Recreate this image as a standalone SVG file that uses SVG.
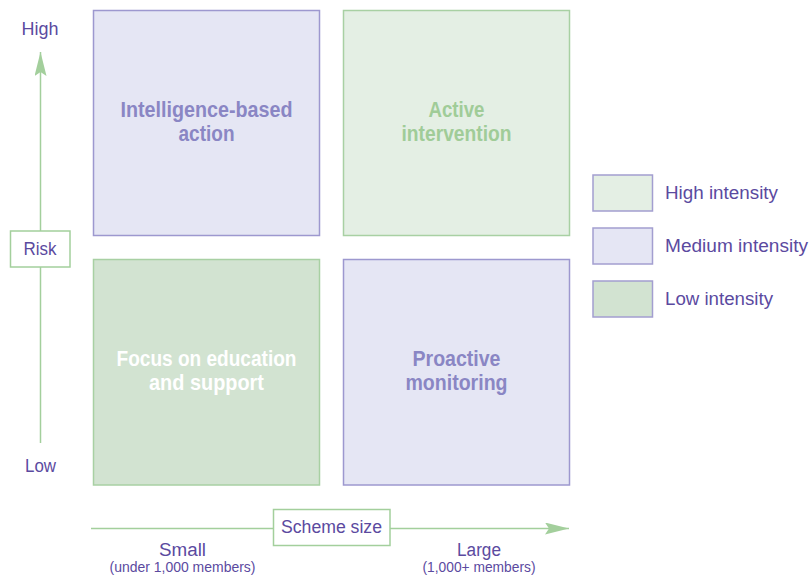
<svg xmlns="http://www.w3.org/2000/svg" width="809" height="575" viewBox="0 0 809 575">
<style>
.t{font-family:"Liberation Sans",Arial,sans-serif;fill:#5b4a9f;font-size:18px}
.s{font-size:14px}
.b{font-family:"Liberation Sans",Arial,sans-serif;font-weight:bold;font-size:22px;text-anchor:middle}
.med{fill:#e5e6f4;stroke:#9d98cf;stroke-width:1.5}
.hi{fill:#e4efe4;stroke:#a8d0a3;stroke-width:1.5}
.lo{fill:#d2e3d1;stroke:#a8d0a3;stroke-width:1.5}
.leg{stroke:#a39ed0;stroke-width:1.5}
.ax{stroke:#a3cf9c;stroke-width:1.5;fill:none}
.lbl{fill:#ffffff;stroke:#a3cf9c;stroke-width:1.5}
</style>
<defs>
<marker id="ah" viewBox="0 0 24 12" refX="24" refY="6" markerWidth="24" markerHeight="12" markerUnits="userSpaceOnUse" orient="auto">
<path d="M0,0 L24,6 L0,12 L4,6 Z" fill="#a3cf9c"/>
</marker>
</defs>
<g id="connectors">
<line class="ax" x1="40.5" y1="231" x2="40.5" y2="52" marker-end="url(#ah)"/>
<line class="ax" x1="40.5" y1="267" x2="40.5" y2="443"/>
<line class="ax" x1="91" y1="528.5" x2="273" y2="528.5"/>
<line class="ax" x1="390" y1="528.5" x2="569" y2="528.5" marker-end="url(#ah)"/>
</g>
<g id="intelligence">
<rect class="med" x="93.5" y="10.5" width="226" height="225"/>
<text class="b" fill="#8a86c4" x="206.5" y="117" textLength="172" lengthAdjust="spacingAndGlyphs">Intelligence-based</text>
<text class="b" fill="#8a86c4" x="206.5" y="141" textLength="56" lengthAdjust="spacingAndGlyphs">action</text>
</g>
<g id="active">
<rect class="hi" x="343.5" y="10.5" width="226" height="225"/>
<text class="b" fill="#a0cc98" x="456.5" y="117" textLength="56" lengthAdjust="spacingAndGlyphs">Active</text>
<text class="b" fill="#a0cc98" x="456.5" y="141" textLength="110" lengthAdjust="spacingAndGlyphs">intervention</text>
</g>
<g id="focus">
<rect class="lo" x="93.5" y="259.5" width="226" height="225.5"/>
<text class="b" fill="#ffffff" x="206.5" y="366" textLength="180" lengthAdjust="spacingAndGlyphs">Focus on education</text>
<text class="b" fill="#ffffff" x="206.5" y="390" textLength="115" lengthAdjust="spacingAndGlyphs">and support</text>
</g>
<g id="proactive">
<rect class="med" x="343.5" y="259.5" width="226" height="225.5"/>
<text class="b" fill="#8a86c4" x="456.5" y="366" textLength="88" lengthAdjust="spacingAndGlyphs">Proactive</text>
<text class="b" fill="#8a86c4" x="456.5" y="390" textLength="102" lengthAdjust="spacingAndGlyphs">monitoring</text>
</g>
<g id="risk-axis">
<text class="t" x="40" y="35" text-anchor="middle" textLength="37" lengthAdjust="spacingAndGlyphs">High</text>
<rect class="lbl" x="10.5" y="231" width="59.5" height="36"/>
<text class="t" x="40" y="255" text-anchor="middle" textLength="33" lengthAdjust="spacingAndGlyphs">Risk</text>
<text class="t" x="40.5" y="472" text-anchor="middle" textLength="31" lengthAdjust="spacingAndGlyphs">Low</text>
</g>
<g id="size-axis">
<rect class="lbl" x="273.5" y="509.5" width="116.5" height="36"/>
<text class="t" x="331.5" y="533" text-anchor="middle" textLength="101" lengthAdjust="spacingAndGlyphs">Scheme size</text>
<text class="t" x="182.5" y="556" text-anchor="middle" textLength="47" lengthAdjust="spacingAndGlyphs">Small</text>
<text class="t s" x="182.5" y="572" text-anchor="middle" textLength="146" lengthAdjust="spacingAndGlyphs">(under 1,000 members)</text>
<text class="t" x="479" y="556" text-anchor="middle" textLength="44" lengthAdjust="spacingAndGlyphs">Large</text>
<text class="t s" x="479" y="572" text-anchor="middle" textLength="113" lengthAdjust="spacingAndGlyphs">(1,000+ members)</text>
</g>
<g id="legend">
<rect class="leg" fill="#e4efe4" x="593" y="175" width="59.5" height="36"/>
<text class="t" x="665" y="199" textLength="113" lengthAdjust="spacingAndGlyphs">High intensity</text>
<rect class="leg" fill="#e5e6f4" x="593" y="228" width="59.5" height="36"/>
<text class="t" x="665" y="252" textLength="143" lengthAdjust="spacingAndGlyphs">Medium intensity</text>
<rect class="leg" fill="#d2e3d1" x="593" y="281" width="59.5" height="36"/>
<text class="t" x="665" y="304.5" textLength="108" lengthAdjust="spacingAndGlyphs">Low intensity</text>
</g>
</svg>
